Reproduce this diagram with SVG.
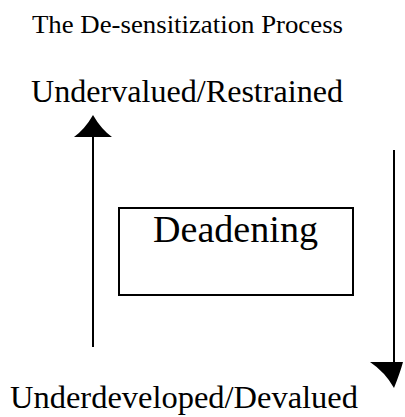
<svg xmlns="http://www.w3.org/2000/svg" width="405" height="417" viewBox="0 0 405 417">
<style>
text{font-family:"Liberation Serif","Times New Roman",serif;fill:#000}
.ln{stroke:#000;stroke-width:2;fill:none}
.hd{fill:#000;stroke:none}
</style>
<rect width="405" height="417" fill="#fff"/>
<g id="title"><text x="32" y="33" font-size="26" textLength="311" lengthAdjust="spacingAndGlyphs">The De-sensitization Process</text></g>
<g id="top"><text x="31" y="102" font-size="32" textLength="312" lengthAdjust="spacingAndGlyphs">Undervalued/Restrained</text></g>
<g id="deadening">
<rect x="119" y="208" width="234" height="87" fill="none" stroke="#000" stroke-width="2"/>
<text x="153" y="242" font-size="38" textLength="165" lengthAdjust="spacingAndGlyphs">Deadening</text>
</g>
<g id="bottom"><text x="10" y="408" font-size="32" textLength="348" lengthAdjust="spacingAndGlyphs">Underdeveloped/Devalued</text></g>
<g id="connectors">
<line class="ln" x1="93" y1="136" x2="93" y2="347"/>
<path class="hd" d="M93,115 Q85,129 74,137 L112,137 Q101,129 93,115 Z"/>
<line class="ln" x1="394" y1="150" x2="394" y2="364"/>
<path class="hd" d="M394,388 Q385,372 370,362 L403,362 Q400,373 394,388 Z"/>
</g>
</svg>
